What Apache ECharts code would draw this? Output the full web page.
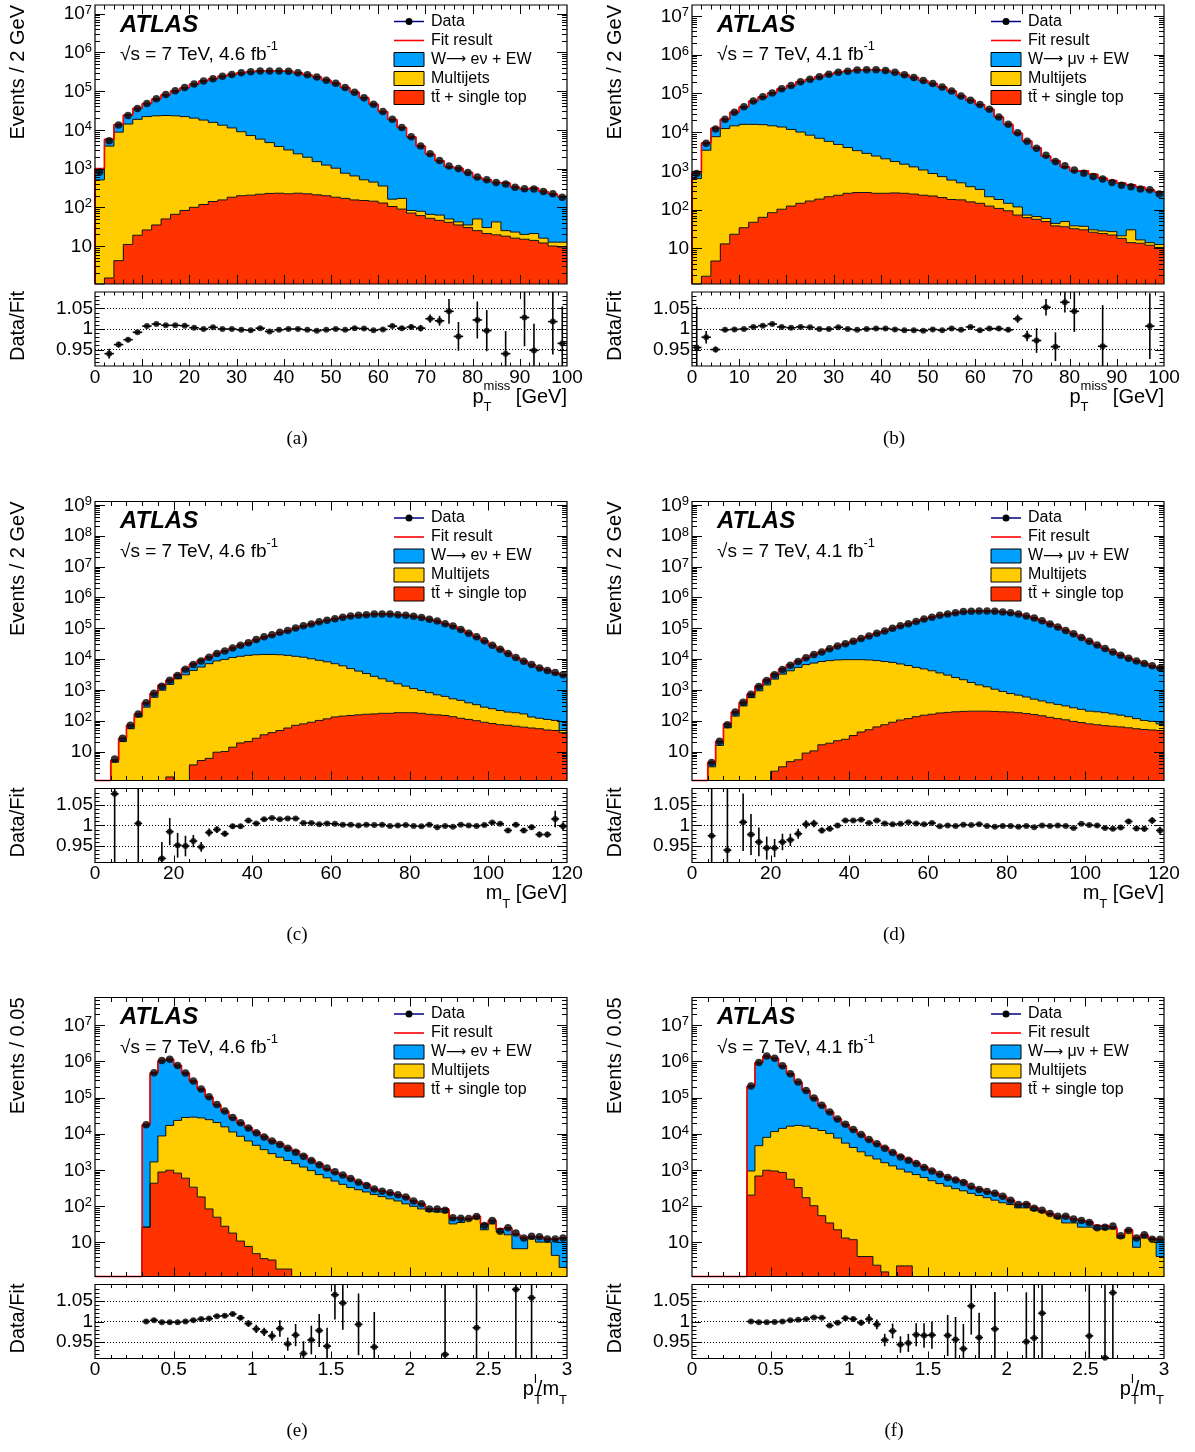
<!DOCTYPE html>
<html><head><meta charset="utf-8">
<script src="https://cdn.jsdelivr.net/npm/echarts@6/dist/echarts.min.js"></script>
<style>html,body{margin:0;padding:0;background:#fff}#c{width:1195px;height:1452px}</style>
</head><body><div id="c"></div>
<script>
// ---------------- DATA ----------------
// (a) W->e nu, pT miss, 2 GeV bins 0-100
const aData=[810,5250,13200,23400,35500,47900,63100,81300,102000,123000,151000,182000,209000,240000,269000,295000,316000,331000,331000,331000,324000,295000,263000,229000,191000,158000,123000,93300,67600,45700,29500,18600,11500,6610,3800,2400,1620,1170,1000,794,603,513,437,398,331,302,295,257,224,182];
const aW=[490,1900,5000,9900,17200,25700,39500,57200,78100,100000,130500,164000,192600,227000,258000,286700,310000,324500,328500,328000,321000,292800,261500,228500,190200,157000,122400,92500,67000,45400,29150,18300,11300,6500,3710,2280,1530,1070,975,760,540,485,395,398,308,274,290,241,207,176];
const aMJ=[510,3800,8700,14100,18600,21900,22900,23350,22900,21800,19900,17700,15400,13000,11000,8700,6900,5530,4450,3490,2800,2170,1730,1300,1030,840,590,490,363,303,226,57,80,12,18,14,17,9,7,5,25,9,22.5,7,7,5,7,4,2.6,3.2];
const aTop=[0,1.5,4.2,11,19,26,35,50,66,83,100,118,141,155,182,199,206,218,228,231,223,231,223,210,199,182,170,155,150,144,129,105,90,71,61,52,46,41,35,30,25,21,19.5,18,16,15,14,12,10,9.4];
const aRatio=[null,0.940,0.962,0.974,0.992,1.007,1.012,1.009,1.009,1.008,1.003,1.000,1.004,1.000,1.000,0.998,0.997,1.002,0.994,0.998,1.000,1.000,0.998,0.996,0.998,1.000,0.998,1.002,1.001,0.997,0.999,1.007,1.002,1.005,1.002,1.025,1.020,1.043,0.982,null,1.022,0.996,null,0.940,null,1.028,0.948,null,1.018,0.965];
const aRatioErr=[0,0.012,0.007,0.005,0.004,0.003,0.003,0.003,0.003,0.003,0.003,0.003,0.003,0.003,0.003,0.003,0.003,0.003,0.003,0.003,0.003,0.003,0.003,0.003,0.003,0.003,0.003,0.003,0.003,0.003,0.004,0.004,0.005,0.006,0.008,0.010,0.012,0.030,0.035,0,0.045,0.050,0,0.055,0,0.070,0.065,0,0.080,0.090];
// (b) W->mu nu, pT miss
const bData=[851,5130,12000,21400,32400,44700,63100,81300,102000,132000,158000,200000,229000,269000,309000,347000,372000,398000,407000,407000,389000,347000,302000,257000,214000,178000,145000,115000,85100,66100,51300,38900,24500,15800,9550,5750,3800,2510,1740,1350,1050,871,708,617,501,427,389,339,324,251];
const bW=[261,1845,5040,9100,17900,28900,47300,65800,87500,118500,146300,190000,220700,262100,303300,342200,368000,394700,404200,404600,387000,345300,300500,255700,213000,177100,144300,114400,84600,65700,51000,38700,24300,15650,9200,5780,3840,2325,1780,1220,970,965,786,617,535,458,406,364,308,269];
const bMJ=[630,3390,7585,12290,14480,15770,15750,15440,14420,13400,11580,9855,8150,6730,5540,4560,3720,3035,2545,2140,1780,1470,1220,1010,816,627,504,393,312,231,186,91,75,52,45,10,10,10,6,13,6,7,4,4,5,3,16,3,2,2];
const bTop=[0,1.9,4.7,13,23,34,47,63,83,102,123,145,166,186,214,234,263,275,275,263,263,269,263,251,234,224,204,182,178,158,145,123,107,93,72,62,56,49,38,36,32,30,26,24,22,18,14,13.5,12,10.5];
const bRatio=[0.955,0.980,0.950,0.998,0.999,1.000,1.005,1.008,1.012,1.005,1.003,1.005,1.004,1.000,1.000,1.004,1.000,0.998,1.000,1.001,1.001,0.999,0.997,0.997,0.996,0.999,0.997,1.001,0.998,1.005,0.997,1.001,1.001,0.998,1.025,0.983,0.972,1.053,0.957,1.065,1.043,null,null,0.958,null,null,null,null,1.007,null];
const bRatioErr=[0.10,0.015,0.007,0.004,0.003,0.003,0.003,0.003,0.003,0.003,0.003,0.003,0.003,0.003,0.003,0.003,0.003,0.003,0.003,0.003,0.003,0.003,0.003,0.003,0.003,0.003,0.003,0.003,0.003,0.003,0.004,0.004,0.005,0.005,0.010,0.013,0.030,0.020,0.035,0.025,0.050,0,0,0.10,0,0,0,0,0.08,0];
// (c) W->e nu, mT, 2 GeV bins 0-120
const cData=[null,null,5.75,26.9,70.8,166,380,776,1320,2040,2950,4680,6610,8710,11500,15100,18200,22900,28200,33900,42700,52500,61700,74100,85100,102000,120000,138000,162000,182000,204000,229000,251000,263000,275000,288000,288000,288000,275000,263000,245000,224000,195000,170000,141000,117000,91200,69200,52500,38900,28200,20900,15100,11200,8510,6610,5130,4270,3630,3090];
const cW=[0,0,0.8,6,16,33,105,200,458,561,809,1836,2600,3690,4620,6540,8800,11750,15900,20300,28700,37600,46500,59200,70500,88000,107800,127000,152900,173900,196900,223000,246100,258900,271600,285250,285700,286100,273400,261700,243900,223000,194200,169300,140400,116500,90700,68800,52200,38600,27760,20690,15090,11020,8450,6500,5125,4256,3471,3040];
const cMJ=[0,0,4.5,21,55,132,275,575,977,1508,2290,3090,4266,5495,7074,8700,9760,11186,12281,13179,13773,14065,14059,13752,13142,12229,11421,10111,9018,8015,6948,5889,4752,3915,3228,2584,2116,1736,1398,1138,918,781,651,537,469,378,337,270,231,186,164,140,120,116,104,74,65,60,54,7];
const cTop=[0,0,0,0,0,0,0,0,0,1.5,0,0,3.7,5.1,6.0,9.5,10,13.8,19,21,27,35,41,48,58,71,79,89,102,115,132,141,148,155,162,166,174,174,182,182,182,174,162,155,148,135,120,110,100,89,81,74,71,66,62,58,55,50,48,41];
const cRatio=[null,null,1.077,null,null,1.005,null,null,0.920,0.985,0.952,0.950,0.962,0.948,0.983,0.990,0.980,0.998,0.998,1.012,1.005,1.015,1.018,1.015,1.017,1.017,1.006,1.006,1.003,1.005,1.004,1.002,1.002,1.000,1.002,1.001,1.002,0.999,1.000,1.001,0.999,0.998,1.002,0.996,0.999,0.997,1.002,1.000,0.999,1.001,1.007,1.004,0.988,1.002,0.988,0.996,0.978,0.978,1.016,0.998];
const cRatioErr=[0,0,0.2,0,0,0.2,0,0,0.04,0.033,0.03,0.025,0.015,0.012,0.010,0.008,0.007,0.006,0.005,0.005,0.004,0.004,0.003,0.003,0.003,0.003,0.003,0.003,0.003,0.003,0.003,0.003,0.003,0.003,0.003,0.003,0.003,0.003,0.003,0.003,0.003,0.003,0.003,0.003,0.003,0.003,0.003,0.003,0.003,0.004,0.004,0.004,0.005,0.005,0.006,0.006,0.007,0.007,0.02,0.01];
// (d) W->mu nu, mT
const dData=[null,null,4.4,21.4,74,191,398,724,1290,2000,3090,4570,6310,8320,11000,14100,17000,21400,26300,31600,38000,46800,56200,69200,81300,100000,120000,141000,166000,200000,229000,263000,288000,316000,347000,355000,363000,363000,355000,339000,316000,288000,251000,214000,174000,138000,110000,85100,66100,50100,38000,28800,21900,17000,13200,10700,8710,7240,6030,5130];
const dW=[0,0,1.3,5.6,20,50,93,178,411,666,1030,1520,2370,3120,4360,6620,8880,12660,16970,21680,28000,36600,46540,59470,72580,92240,113100,134800,160600,195200,224800,259500,285000,313500,344900,353300,361600,361700,354000,338100,315200,287300,250400,213500,173600,137600,109700,84800,65840,49870,37800,28600,21850,16970,13120,10460,8655,7200,5860,5110];
const dMJ=[0,0,3.2,15.8,59,141,302,562,933,1450,2238,3237,4165,5365,6600,7400,8303,8891,9308,9525,9517,9507,9279,8847,8246,7671,6815,6053,5235,4639,4008,3372,2834,2315,1940,1536,1246,1056,850,696,568,494,419,343,292,251,222,195,168,147,125,121,113,100,88,76,62,50,45,31];
const dTop=[0,0,0,0,0,0,0,0,0,0,2.3,3.2,4.7,5.4,8.9,10.5,16.6,18.6,22.4,25,33,43,51,63,74,89,105,117,135,151,162,178,186,195,200,204,204,204,200,195,191,182,170,158,145,129,117,107,95,87,79,74,69,66,63,59,55,52,50,48];
const dRatio=[null,null,0.975,null,0.940,null,1.008,0.978,0.960,0.945,0.945,0.960,0.965,0.980,1.003,1.005,0.988,0.992,1.000,1.012,1.012,1.014,1.006,1.012,1.005,1.003,1.004,1.008,1.005,1.003,1.006,0.998,1.000,0.999,1.002,1.001,1.003,0.999,0.997,0.999,0.999,0.997,0.999,0.996,1.000,0.999,1.000,0.999,0.994,1.004,1.001,1.000,0.994,0.992,0.995,1.010,0.993,0.992,1.012,0.988];
const dRatioErr=[0,0,0.2,0,0.15,0,0.07,0.05,0.035,0.028,0.022,0.02,0.015,0.012,0.010,0.009,0.007,0.006,0.005,0.004,0.004,0.004,0.003,0.003,0.003,0.003,0.003,0.003,0.003,0.003,0.003,0.003,0.003,0.003,0.003,0.003,0.003,0.003,0.003,0.003,0.003,0.003,0.003,0.003,0.003,0.003,0.003,0.003,0.003,0.003,0.004,0.004,0.004,0.004,0.005,0.006,0.006,0.007,0.008,0.009];
// (e) W->e nu, pT(l)/mT, 0.05 bins 0-3
const eData=[null,null,null,null,null,null,17800,490000,1070000,1150000,776000,479000,288000,174000,105000,64600,42700,28200,20000,14500,10700,8130,6310,5010,3980,3090,2400,1820,1380,1120,891,724,575,457,372,295,257,234,204,178,138,115,83,83,76,47,46,45,51,29,40,20,25,18,13,14.5,14,12.3,12.3,13];
const eW=[0,0,0,0,0,0,17770,486800,1063000,1135000,754100,450800,257500,145300,79150,43300,26450,16750,11590,8460,6180,4795,3600,3060,2296,1871,1313,906,727,449,363,326,255,175,152,86,75,76,66,63,40,32,11,15,15,15,11,3,7,10,8,4,9,10,6.4,2,4,2.3,8,11];
const eMJ=[0,0,0,0,0,0,0,1233,7840,16020,22590,27610,28470,27320,24420,20350,15470,11180,8500,6300,4785,3626,2817,2238,1818,1480,1200,955,741,603,490,398,324,282,245,209,182,158,138,115,98,83,72,68,68,32,35,42,45,22,32,19,16,6.6,6.6,12.3,10,10,4.3,2];
const eTop=[0,0,0,0,0,0,26,427,871,977,813,589,331,178,83,49,27.5,17.8,10.7,7.6,4.8,3.5,3.2,1.8,1.8,0,0,0,0,0,0,0,0,0,0,0,0,0,0,0,0,0,0,0,0,0,0,0,0,0,0,0,0,0,0,0,0,0,0,0];
const eRatio=[null,null,null,null,null,null,1.000,1.003,0.998,0.998,0.998,1.000,1.003,1.006,1.007,1.013,1.014,1.018,1.009,0.995,0.982,0.975,0.965,0.983,0.945,0.967,0.922,0.955,0.978,0.940,1.065,1.045,null,0.993,null,0.938,null,null,null,null,null,null,null,null,0.920,null,null,null,0.985,null,null,null,null,1.078,null,1.058,null,null,null,null];
const eRatioErr=[0,0,0,0,0,0,0.004,0.004,0.004,0.004,0.004,0.004,0.004,0.004,0.004,0.004,0.004,0.005,0.006,0.008,0.010,0.010,0.012,0.020,0.016,0.027,0.030,0.035,0.040,0.045,0.060,0.065,0,0.075,0,0.085,0,0,0,0,0,0,0,0,0.3,0,0,0,0.3,0,0,0,0,0.3,0,0.3,0,0,0,0];
// (f) W->mu nu, pT(l)/mT
const fData=[null,null,null,null,null,null,null,209000,933000,1410000,1230000,759000,457000,269000,158000,97700,61700,39800,25700,18200,13200,9550,6920,5250,3980,3020,2290,1860,1510,1170,933,759,617,525,447,355,288,251,224,186,145,110,110,87,76,62,52,52,44,40,35,25,26,28,15,21,13,16,12,12];
const fW=[0,0,0,0,0,0,0,208000,930200,1405000,1220000,744900,439400,250900,140900,82630,48850,30000,18190,12560,8950,6420,4430,3290,2590,1800,1376,1091,819,594,464,342,284,247,216,118,105,81,83,63,35,21,27,15,7,4,6,18,10,14,10,6,5.5,3,2,2,6,3,1,8];
const fMJ=[0,0,0,0,0,0,0,733,4004,6963,10567,13249,15650,16676,16030,13998,12246,10166,7568,5487,4158,3156,2446,1998,1578,1290,1048,869,741,617,501,417,355,302,263,224,195,170,145,123,110,89,89,76,68,58,46,34,34,26,26,23,23,23,13,20,7.2,13,11.7,4];
const fTop=[0,0,0,0,0,0,0,200,676,977,933,851,550,324,170,102,54,34,22,13,11.7,4,4,2.3,1.5,0,2.2,2.2,0,0,0,0,0,0,0,0,0,0,0,0,0,0,0,0,0,0,0,0,0,0,0,0,0,0,0,0,0,0,0,0];
const fRatio=[null,null,null,null,null,null,null,1.000,0.998,0.998,0.999,1.000,1.003,1.004,1.006,1.010,1.009,0.990,0.997,1.008,1.006,0.997,1.006,0.993,0.955,0.977,0.944,0.948,0.968,0.966,0.967,null,0.966,0.956,0.934,1.038,0.961,null,0.982,null,null,null,0.951,0.960,1.020,null,null,null,null,null,0.965,null,0.912,1.070,null,null,null,null,null,null];
const fRatioErr=[0,0,0,0,0,0,0,0.003,0.003,0.003,0.003,0.003,0.003,0.003,0.003,0.003,0.003,0.004,0.005,0.006,0.006,0.007,0.012,0.012,0.015,0.018,0.020,0.022,0.028,0.030,0.033,0,0.050,0.055,0.060,0.070,0.060,0,0.090,0,0,0,0.12,0.15,0.15,0,0,0,0,0,0.2,0,0.25,0.25,0,0,0,0,0,0];

// texts
const legendLabelsE=['Data','Fit result',['W',' e\u03bd + EW'],'Multijets','t\u0074\u0304 + single top'];
const legendLabelsMu=['Data','Fit result',['W',' \u03bc\u03bd + EW'],'Multijets','t\u0074\u0304 + single top'];
const lumiTexts=['4.6','4.1'];
const captions=['(a)','(b)','(c)','(d)','(e)','(f)'];
const yTitles=['Events / 2 GeV','Events / 2 GeV','Events / 0.05'];

// ---------------- STYLE / LAYOUT ----------------
const FONT='"Liberation Sans", Arial, Helvetica, sans-serif';
const COL_W='#00a0ff', COL_MJ='#ffcc00', COL_TOP='#ff3300', COL_FIT='#ff0000';
const colLeft=[95,692], rowTop=[5,501.5,997.5];
const PW=472, MH=279, RO=287, RH=74, RMIN=0.91, RMAX=1.09;

const panels=[
 {col:0,row:0,xmin:0,xmax:100,bw:2,xMaj:10,xMin:2,ymin:1.05,ymax:1.66e7,W:aW,MJ:aMJ,TOP:aTop,D:aData,R:aRatio,RE:aRatioErr,leg:legendLabelsE,lumi:lumiTexts[0],xt:'met',cap:captions[0]},
 {col:1,row:0,xmin:0,xmax:100,bw:2,xMaj:10,xMin:2,ymin:1.2,ymax:1.9e7,W:bW,MJ:bMJ,TOP:bTop,D:bData,R:bRatio,RE:bRatioErr,leg:legendLabelsMu,lumi:lumiTexts[1],xt:'met',cap:captions[1]},
 {col:0,row:1,xmin:0,xmax:120,bw:2,xMaj:20,xMin:4,ymin:1.15,ymax:1.29e9,W:cW,MJ:cMJ,TOP:cTop,D:cData,R:cRatio,RE:cRatioErr,leg:legendLabelsE,lumi:lumiTexts[0],xt:'mt',cap:captions[2]},
 {col:1,row:1,xmin:0,xmax:120,bw:2,xMaj:20,xMin:4,ymin:1.15,ymax:1.29e9,W:dW,MJ:dMJ,TOP:dTop,D:dData,R:dRatio,RE:dRatioErr,leg:legendLabelsMu,lumi:lumiTexts[1],xt:'mt',cap:captions[3]},
 {col:0,row:2,xmin:0,xmax:3,bw:0.05,xMaj:0.5,xMin:0.1,ymin:1.12,ymax:5.9e7,W:eW,MJ:eMJ,TOP:eTop,D:eData,R:eRatio,RE:eRatioErr,leg:legendLabelsE,lumi:lumiTexts[0],xt:'ptmt',cap:captions[4]},
 {col:1,row:2,xmin:0,xmax:3,bw:0.05,xMaj:0.5,xMin:0.1,ymin:1.12,ymax:5.9e7,W:fW,MJ:fMJ,TOP:fTop,D:fData,R:fRatio,RE:fRatioErr,leg:legendLabelsMu,lumi:lumiTexts[1],xt:'ptmt',cap:captions[5]}
];

const mctx=document.createElement('canvas').getContext('2d');
function tw(s,size){mctx.font=size+'px '+FONT;return mctx.measureText(s).width;}

function clampY(cs,py){return Math.max(cs.y,Math.min(cs.y+cs.height,py));}
function yPix(api,cs,x,v){ if(!(v>0)) return cs.y+cs.height; return clampY(cs,api.coord([x,v])[1]); }

const grids=[], xAxes=[], yAxes=[], series=[], graphics=[];

function logLabel(v){const e=Math.log10(v);const r=Math.round(e);if(Math.abs(e-r)>0.02)return '';return r===1?'{b|10}':'{b|10}{s|'+r+'}';}
function ratioLabel(v){const r=Math.round(v*100);if(r===95)return '0.95';if(r===100)return '1';if(r===105)return '1.05';return '';}

panels.forEach((p,pi)=>{
  const L=colLeft[p.col], T=rowTop[p.row];
  const gm=2*pi, gr=2*pi+1;
  grids.push({left:L,top:T,width:PW,height:MH,show:false});
  grids.push({left:L,top:T+RO,width:PW,height:RH,show:false});
  const xBase={type:'value',min:p.xmin,max:p.xmax,interval:p.xMaj,axisLine:{show:false},axisTick:{show:false},splitLine:{show:false}};
  xAxes.push(Object.assign({gridIndex:gm,axisLabel:{show:false}},xBase));
  xAxes.push(Object.assign({gridIndex:gr,axisLabel:{show:true,margin:2,fontSize:19,fontFamily:FONT,color:'#000'}},xBase));
  yAxes.push({gridIndex:gm,type:'log',logBase:10,min:p.ymin,max:p.ymax,axisLine:{show:false},axisTick:{show:false},splitLine:{show:false},
    axisLabel:{margin:3,formatter:logLabel,color:'#000',rich:{b:{fontSize:19,fontFamily:FONT,lineHeight:20,verticalAlign:'bottom'},s:{fontSize:13,fontFamily:FONT,lineHeight:13,verticalAlign:'top'}}}});
  yAxes.push({gridIndex:gr,type:'value',min:RMIN,max:RMAX,interval:0.01,axisLine:{show:false},axisTick:{show:false},splitLine:{show:false},
    axisLabel:{margin:2,formatter:ratioLabel,fontSize:19,fontFamily:FONT,color:'#000'}});

  const n=p.D.length;
  const cumTop=p.TOP.slice();
  const cumMJ=p.TOP.map((v,i)=>v+p.MJ[i]);
  const cumW=cumMJ.map((v,i)=>v+p.W[i]);
  const edges=i=>[p.xmin+i*p.bw,p.xmin+(i+1)*p.bw];

  function fill(lo,hi,color,name){
    return {type:'custom',name:name,xAxisIndex:gm,yAxisIndex:gm,silent:true,z:2,animation:false,
      encode:{x:[0,1],y:[2,3]},
      data:hi.map((h,i)=>[edges(i)[0],edges(i)[1],lo[i],h]),
      renderItem:(params,api)=>{
        const cs=params.coordSys,x0=api.value(0),x1=api.value(1),l=api.value(2),h=api.value(3);
        if(!(h>0)||!(h>l))return null;
        const yh=yPix(api,cs,x0,h),yl=yPix(api,cs,x0,l);
        if(yl-yh<0.05)return null;
        const xa=Math.round(api.coord([x0,p.ymin])[0]),xb=Math.round(api.coord([x1,p.ymin])[0]);
        return {type:'rect',shape:{x:xa,y:yh,width:xb-xa,height:yl-yh},style:{fill:color}};
      }};
  }
  series.push(fill(p.TOP.map(()=>0),cumTop,COL_TOP,'top'));
  series.push(fill(cumTop,cumMJ,COL_MJ,'mj'));
  series.push(fill(cumMJ,cumW,COL_W,'w'));

  function steps(cums,color,lw,z){
    return {type:'custom',xAxisIndex:gm,yAxisIndex:gm,silent:true,z:z,animation:false,
      encode:{x:[0,1],y:2},
      data:cumW.map((h,i)=>[edges(i)[0],edges(i)[1],h]),
      renderItem:(params,api)=>{
        const cs=params.coordSys,i=params.dataIndex,x0=api.value(0),x1=api.value(1);
        const xa=api.coord([x0,p.ymin])[0],xb=api.coord([x1,p.ymin])[0];
        const ch=[];
        cums.forEach(c=>{
          const y=yPix(api,cs,x0,c[i]);
          ch.push({type:'line',shape:{x1:xa,y1:y,x2:xb,y2:y},style:{stroke:color,lineWidth:lw}});
          if(i<n-1){const yn=yPix(api,cs,x0,c[i+1]);ch.push({type:'line',shape:{x1:xb,y1:y,x2:xb,y2:yn},style:{stroke:color,lineWidth:lw}});}
          if(i===0){ch.push({type:'line',shape:{x1:xa,y1:cs.y+cs.height,x2:xa,y2:y},style:{stroke:color,lineWidth:lw}});}
        });
        return {type:'group',children:ch};
      }};
  }
  series.push(steps([cumTop,cumMJ,cumW],'#111',1,3));
  series.push(steps([cumW],COL_FIT,1.6,4));

  const pts=[];
  p.D.forEach((v,i)=>{if(v!=null)pts.push([p.xmin+(i+0.5)*p.bw,v]);});
  series.push({type:'scatter',xAxisIndex:gm,yAxisIndex:gm,silent:true,z:6,animation:false,symbol:'circle',symbolSize:7.5,itemStyle:{color:'#000'},data:pts});

  // ratio
  const rpts=[];
  p.R.forEach((v,i)=>{if(v!=null)rpts.push([p.xmin+(i+0.5)*p.bw,v,p.RE[i]]);});
  series.push({type:'custom',xAxisIndex:gr,yAxisIndex:gr,silent:true,z:5,animation:false,encode:{x:0,y:1},data:rpts,
    renderItem:(params,api)=>{
      const cs=params.coordSys,xc=api.value(0),r=api.value(1),e=api.value(2);
      const ch=[];
      const xa=api.coord([xc-p.bw/2,1])[0],xb=api.coord([xc+p.bw/2,1])[0],xm=api.coord([xc,1])[0];
      const py=api.coord([xc,r])[1];
      if(py>=cs.y&&py<=cs.y+cs.height) ch.push({type:'line',shape:{x1:xa,y1:py,x2:xb,y2:py},style:{stroke:'#000',lineWidth:1.6}});
      const y1=clampY(cs,api.coord([xc,r+e])[1]),y2=clampY(cs,api.coord([xc,r-e])[1]);
      if(y2-y1>0.5) ch.push({type:'line',shape:{x1:xm,y1:y1,x2:xm,y2:y2},style:{stroke:'#000',lineWidth:1.6}});
      return {type:'group',children:ch};
    }});
  series.push({type:'scatter',xAxisIndex:gr,yAxisIndex:gr,silent:true,z:6,animation:false,symbol:'circle',symbolSize:6,itemStyle:{color:'#000'},
    data:rpts.filter(d=>d[1]>RMIN&&d[1]<RMAX).map(d=>[d[0],d[1]]),
    markLine:{silent:true,symbol:'none',animation:false,label:{show:false},lineStyle:{color:'#000',type:[1,2],width:1},data:[{yAxis:0.95},{yAxis:1},{yAxis:1.05}]}});

  // ticks + frames
  const nx=Math.round((p.xmax-p.xmin)/p.xMin), per=Math.round(p.xMaj/p.xMin);
  const xT=[];for(let k=1;k<nx;k++)xT.push([p.xmin+k*p.xMin,k%per===0]);
  const yLogT=[];for(let e=Math.floor(Math.log10(p.ymin));e<=Math.ceil(Math.log10(p.ymax));e++)for(let m=1;m<=9;m++){const v=m*Math.pow(10,e);if(v>p.ymin&&v<p.ymax)yLogT.push([v,m===1]);}
  const yRT=[];for(let k=92;k<=108;k++)yRT.push([k/100,k===95||k===100||k===105]);
  function tickSeries(gi,yT,refY,len){
    return {type:'custom',xAxisIndex:gi,yAxisIndex:gi,silent:true,z:9,animation:false,encode:{x:0,y:1},data:[[(p.xmin+p.xmax)/2,refY]],
      renderItem:(params,api)=>{
        const cs=params.coordSys,ch=[];const bot=cs.y+cs.height,rt=cs.x+cs.width;
        const add=(a,b,c,d)=>ch.push({type:'line',shape:{x1:a,y1:b,x2:c,y2:d},style:{stroke:'#000',lineWidth:1}});
        xT.forEach(t=>{const px=Math.round(api.coord([t[0],refY])[0])+0.5;const l=t[1]?len.xM:len.xm;add(px,bot,px,bot-l);add(px,cs.y,px,cs.y+l);});
        yT.forEach(t=>{const py=Math.round(api.coord([p.xmin,t[0]])[1])+0.5;const l=t[1]?len.yM:len.ym;add(cs.x,py,cs.x+l,py);add(rt,py,rt-l,py);});
        ch.push({type:'rect',shape:{x:cs.x,y:cs.y,width:cs.width,height:cs.height},style:{fill:null,stroke:'#000',lineWidth:1.2}});
        return {type:'group',children:ch};
      }};
  }
  series.push(tickSeries(gm,yLogT,Math.sqrt(p.ymin*p.ymax),{xM:9,xm:4.5,yM:10,ym:5}));
  series.push(tickSeries(gr,yRT,1,{xM:7,xm:3.5,yM:9,ym:4.5}));

  // ----- texts -----
  graphics.push({type:'text',x:L+25,y:T+20,style:{text:'ATLAS',font:'italic bold 24px '+FONT,fill:'#000',align:'left',verticalAlign:'middle'}});
  graphics.push({type:'text',x:L+25,y:T+50,style:{text:'{n|\u221As = 7 TeV, '+p.lumi+' fb}{s|-1}',align:'left',verticalAlign:'middle',
    rich:{n:{fontSize:19,fontFamily:FONT,lineHeight:30,verticalAlign:'middle',fill:'#000'},s:{fontSize:13,fontFamily:FONT,lineHeight:13,verticalAlign:'top',fill:'#000'}}}});
  // legend
  const lx0=L+299,lx1=L+329,ltx=L+336;
  const ly=[0,1,2,3,4].map(k=>T+16.5+19*k);
  graphics.push({type:'line',shape:{x1:lx0,y1:ly[0],x2:lx1,y2:ly[0]},style:{stroke:'#000080',lineWidth:1.5}});
  graphics.push({type:'circle',shape:{cx:(lx0+lx1)/2,cy:ly[0],r:3.5},style:{fill:'#000'}});
  graphics.push({type:'line',shape:{x1:lx0,y1:ly[1],x2:lx1,y2:ly[1]},style:{stroke:COL_FIT,lineWidth:1.6}});
  [COL_W,COL_MJ,COL_TOP].forEach((c,k)=>graphics.push({type:'rect',shape:{x:lx0,y:ly[k+2]-7,width:30,height:14},style:{fill:c,stroke:'#000',lineWidth:1}}));
  p.leg.forEach((t,k)=>{
    if(Array.isArray(t)){
      graphics.push({type:'text',x:ltx,y:ly[k],style:{text:'{n|'+t[0]+'}{ar|\u27F6}{n|'+t[1]+'}',align:'left',verticalAlign:'middle',
        rich:{n:{fontSize:16,fontFamily:FONT,fill:'#000'},ar:{fontSize:14,fontFamily:'"DejaVu Sans", sans-serif',fill:'#000'}}}});
    } else {
      graphics.push({type:'text',x:ltx,y:ly[k],style:{text:t,font:'16px '+FONT,fill:'#000',align:'left',verticalAlign:'middle'}});
    }
  });
  // y titles
  const tx=p.col===0?18:615;
  graphics.push({type:'text',x:tx,y:T,rotation:Math.PI/2,style:{text:yTitles[p.row],font:'20px '+FONT,fill:'#000',align:'right',verticalAlign:'middle'}});
  graphics.push({type:'text',x:tx,y:T+RO-1,rotation:Math.PI/2,style:{text:'Data/Fit',font:'20px '+FONT,fill:'#000',align:'right',verticalAlign:'middle'}});
  // x titles
  const R=L+PW, yc=T+RO+RH+31;
  const rich={n:{fontSize:20,fontFamily:FONT,lineHeight:34,verticalAlign:'middle',fill:'#000'},sp:{fontSize:13,fontFamily:FONT,lineHeight:13,verticalAlign:'top',fill:'#000'},sb:{fontSize:13,fontFamily:FONT,lineHeight:13,verticalAlign:'bottom',fill:'#000'}};
  if(p.xt==='met'){
    graphics.push({type:'text',x:R,y:yc,style:{text:'{n|p}{sp|miss}{n| [GeV]}',rich:rich,align:'right',verticalAlign:'middle'}});
    graphics.push({type:'text',x:R-tw(' [GeV]',20)-tw('miss',13),y:yc+10.5,style:{text:'T',font:'13px '+FONT,fill:'#000',align:'left',verticalAlign:'middle'}});
  } else if(p.xt==='mt'){
    graphics.push({type:'text',x:R,y:yc,style:{text:'{n|m}{sb|T}{n| [GeV]}',rich:rich,align:'right',verticalAlign:'middle'}});
  } else {
    graphics.push({type:'text',x:R,y:yc,style:{text:'{n|p}{sp|l}{n|/m}{sb|T}',rich:rich,align:'right',verticalAlign:'middle'}});
    graphics.push({type:'text',x:R-tw('/m',20)-tw('T',13)-tw('l',13),y:yc+10.5,style:{text:'T',font:'13px '+FONT,fill:'#000',align:'left',verticalAlign:'middle'}});
  }
  graphics.push({type:'text',x:L+PW/2-34,y:T+RO+RH+73,style:{text:p.cap,font:'19px "Liberation Serif", "Times New Roman", serif',fill:'#000',align:'center',verticalAlign:'middle'}});
});

const chart=echarts.init(document.getElementById('c'),null,{renderer:'canvas',width:1195,height:1452});
chart.setOption({animation:false,backgroundColor:'#fff',grid:grids,xAxis:xAxes,yAxis:yAxes,series:series,graphic:{elements:graphics}});
</script></body></html>
